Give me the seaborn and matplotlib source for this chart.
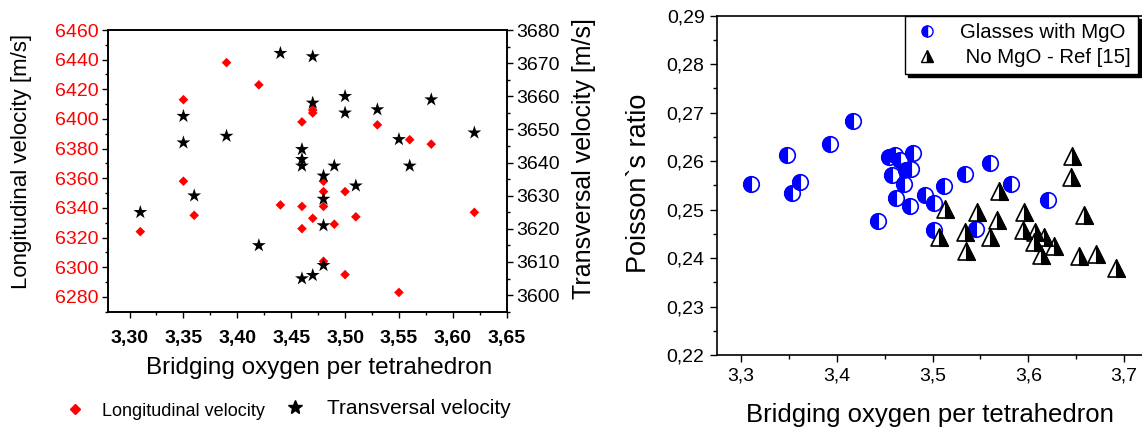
import matplotlib
matplotlib.use("Agg")
import matplotlib.pyplot as plt
import seaborn as sns
import pandas as pd
from matplotlib.markers import MarkerStyle
from matplotlib.lines import Line2D
from matplotlib.ticker import MultipleLocator, FuncFormatter

sns.set_style("ticks", rc={"axes.edgecolor": "black", "xtick.color": "black",
                           "ytick.color": "black", "text.color": "black",
                           "axes.labelcolor": "black"})
plt.rcParams["font.family"] = ["Liberation Sans", "DejaVu Sans"]

# Left panel: sound velocities vs bridging oxygen
bo_long = [3.31, 3.35, 3.35, 3.36, 3.39, 3.42, 3.44, 3.46, 3.46, 3.46, 3.47, 3.47, 3.47,
           3.48, 3.48, 3.48, 3.48, 3.49, 3.50, 3.50, 3.51, 3.53, 3.55, 3.56, 3.58, 3.62]
v_long = [6324, 6413, 6358, 6335, 6438, 6423, 6342, 6398, 6341, 6326, 6406, 6404, 6333,
          6358, 6351, 6341, 6304, 6329, 6351, 6295, 6334, 6396, 6283, 6386, 6383, 6337]
bo_trans = [3.31, 3.35, 3.35, 3.36, 3.39, 3.42, 3.44, 3.46, 3.46, 3.46, 3.46, 3.47, 3.47, 3.47,
            3.48, 3.48, 3.48, 3.48, 3.49, 3.50, 3.50, 3.51, 3.53, 3.55, 3.56, 3.58, 3.62]
v_trans = [3625, 3654, 3646, 3630, 3648, 3615, 3673, 3644, 3641, 3639, 3605, 3672, 3658, 3606,
           3636, 3629, 3621, 3609, 3639, 3660, 3655, 3633, 3656, 3647, 3639, 3659, 3649]

# Right panel: Poisson's ratio
bo_mgo = [3.310, 3.348, 3.353, 3.362, 3.393, 3.417, 3.443, 3.455, 3.461, 3.466, 3.480, 3.458, 3.472,
          3.478, 3.470, 3.462, 3.476, 3.492, 3.501, 3.512, 3.501, 3.534, 3.560, 3.582, 3.621, 3.545]
nu_mgo = [0.2553, 0.2612, 0.2534, 0.2556, 0.2635, 0.2682, 0.2476, 0.2609, 0.2612, 0.2602, 0.2616,
          0.2571, 0.2582, 0.2583, 0.2553, 0.2524, 0.2508, 0.2531, 0.2514, 0.2549, 0.2458, 0.2574,
          0.2597, 0.2553, 0.2520, 0.2460]
bo_ref = [3.646, 3.645, 3.569, 3.513, 3.546, 3.567, 3.595, 3.658, 3.507, 3.534, 3.560, 3.535,
          3.594, 3.607, 3.616, 3.606, 3.627, 3.613, 3.653, 3.671, 3.692]
nu_ref = [0.2611, 0.2568, 0.2539, 0.2501, 0.2494, 0.2479, 0.2494, 0.2488, 0.2444, 0.2454, 0.2444,
          0.2414, 0.2458, 0.2454, 0.2444, 0.2433, 0.2424, 0.2407, 0.2405, 0.2409, 0.2379]

long_df = pd.DataFrame({"bo": bo_long, "v": v_long})
trans_df = pd.DataFrame({"bo": bo_trans, "v": v_trans})
mgo_df = pd.DataFrame({"bo": bo_mgo, "nu": nu_mgo})
ref_df = pd.DataFrame({"bo": bo_ref, "nu": nu_ref})

comma2 = FuncFormatter(lambda v, p: f"{v:.2f}".replace(".", ","))
comma1 = FuncFormatter(lambda v, p: f"{v:.1f}".replace(".", ","))

fig = plt.figure(figsize=(11.42, 4.29), dpi=100)
ax1 = fig.add_axes([108 / 1142, 1 - 311.7 / 429, 398.7 / 1142, 281.7 / 429])
ax2 = ax1.twinx()
ax3 = fig.add_axes([717 / 1142, 1 - 355 / 429, 426.3 / 1142, 339.3 / 429])

# left panel
sns.scatterplot(data=long_df, x="bo", y="v", marker="D", color="red", s=24,
                edgecolor="none", ax=ax1, legend=False)
sns.scatterplot(data=trans_df, x="bo", y="v", marker="*", color="black", s=110,
                edgecolor="none", ax=ax2, legend=False)

ax1.set_xlim(3.28, 3.65)
ax1.set_ylim(6270, 6460)
ax2.set_ylim(3595, 3680)
ax1.xaxis.set_major_locator(MultipleLocator(0.05))
ax1.xaxis.set_minor_locator(MultipleLocator(0.025))
ax1.xaxis.set_major_formatter(comma2)
ax1.yaxis.set_major_locator(MultipleLocator(20))
ax1.yaxis.set_minor_locator(MultipleLocator(10))
ax2.yaxis.set_major_locator(MultipleLocator(10))
ax2.yaxis.set_minor_locator(MultipleLocator(5))

for ax in (ax1, ax2):
    ax.tick_params(which="major", direction="out", length=4, width=1)
    ax.tick_params(which="minor", direction="out", length=2.5, width=1)
    for sp in ax.spines.values():
        sp.set_linewidth(1.2)
        sp.set_visible(True)
ax1.tick_params(axis="y", labelsize=14, labelcolor="red", pad=3)
ax1.tick_params(axis="x", labelsize=14, pad=9)
for lab in ax1.get_xticklabels():
    lab.set_fontweight("bold")
ax2.tick_params(axis="y", labelsize=14, pad=3)

ax1.set_xlabel("Bridging oxygen per tetrahedron", fontsize=17.5)
ax1.xaxis.set_label_coords(0.53, -0.16)
ax1.set_ylabel("Longitudinal velocity [m/s]", fontsize=16)
ax1.yaxis.set_label_coords(-0.19, 0.535)
ax2.set_ylabel("Transversal velocity [m/s]", fontsize=18)
ax2.yaxis.set_label_coords(1.165, 0.545)

h_long = Line2D([], [], marker="D", color="red", markersize=5.5, linestyle="none")
h_trans = Line2D([], [], marker="*", color="black", markersize=10, linestyle="none")
fig.legend(handles=[h_long], labels=["Longitudinal velocity"], loc="center left",
           bbox_to_anchor=(66 / 1142, 1 - 411 / 429), frameon=False, fontsize=13,
           handlelength=1, handletextpad=1.0, borderpad=0, borderaxespad=0)
fig.legend(handles=[h_trans], labels=["Transversal velocity"], loc="center left",
           bbox_to_anchor=(285 / 1142, 1 - 409 / 429), frameon=False, fontsize=15,
           handlelength=1, handletextpad=1.0, borderpad=0, borderaxespad=0)

# right panel: half-filled markers drawn as white full shape plus filled half
sns.scatterplot(data=mgo_df, x="bo", y="nu", marker="o", s=125, color="white",
                edgecolor="blue", linewidth=1.2, ax=ax3, legend=False)
sns.scatterplot(data=mgo_df, x="bo", y="nu", marker=MarkerStyle("o", fillstyle="left"),
                s=125, color="blue", edgecolor="blue", linewidth=0.8, ax=ax3, legend=False)
sns.scatterplot(data=ref_df, x="bo", y="nu", marker="^", s=150, color="white",
                edgecolor="black", linewidth=1.2, ax=ax3, legend=False)
sns.scatterplot(data=ref_df, x="bo", y="nu", marker=MarkerStyle("^", fillstyle="right"),
                s=150, color="black", edgecolor="black", linewidth=0.8, ax=ax3, legend=False)

ax3.set_xlim(3.275, 3.72)
ax3.set_ylim(0.22, 0.29)
ax3.xaxis.set_major_locator(MultipleLocator(0.1))
ax3.xaxis.set_minor_locator(MultipleLocator(0.05))
ax3.xaxis.set_major_formatter(comma1)
ax3.yaxis.set_major_locator(MultipleLocator(0.01))
ax3.yaxis.set_minor_locator(MultipleLocator(0.005))
ax3.yaxis.set_major_formatter(comma2)
ax3.tick_params(which="major", direction="out", length=5, width=1, labelsize=14, pad=4)
ax3.tick_params(which="minor", direction="out", length=3, width=1)
for sp in ax3.spines.values():
    sp.set_linewidth(1.2)
    sp.set_visible(True)

ax3.set_xlabel("Bridging oxygen per tetrahedron", fontsize=18.5)
ax3.xaxis.set_label_coords(0.5, -0.14)
ax3.set_ylabel("Poisson`s ratio", fontsize=19.5)
ax3.yaxis.set_label_coords(-0.152, 0.505)

h_mgo = Line2D([], [], marker="o", fillstyle="left", color="blue", markerfacecoloralt="white",
               markeredgecolor="blue", markersize=8, linestyle="none")
h_ref = Line2D([], [], marker="^", fillstyle="right", color="black", markerfacecoloralt="white",
               markeredgecolor="black", markersize=8, linestyle="none")
leg = ax3.legend(handles=[h_mgo, h_ref], labels=["Glasses with MgO", " No MgO - Ref [15]"],
                 loc="upper right", bbox_to_anchor=(1138 / 1142, 1 - 16 / 429),
                 bbox_transform=fig.transFigure, borderaxespad=0, fontsize=14.7,
                 fancybox=False, edgecolor="black", framealpha=1,
                 shadow={"color": "black", "alpha": 1},
                 handlelength=1.5, handletextpad=0.85, borderpad=0.35, labelspacing=0.3)
leg.get_frame().set_linewidth(1)

fig.savefig("out.png", dpi=100)
